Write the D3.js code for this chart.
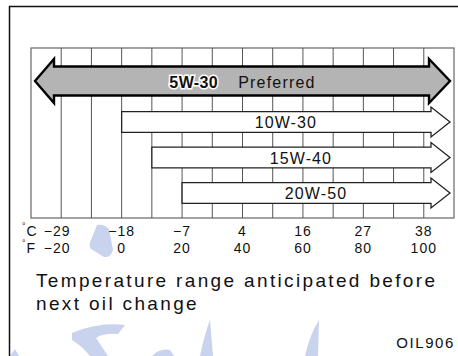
<!DOCTYPE html>
<html>
<head>
<meta charset="utf-8">
<script src="https://cdn.jsdelivr.net/npm/d3@7"></script>
<style>
  body { margin: 0; background: #fff; }
  svg { display: block; font-family: "Liberation Sans", Arial, Helvetica, sans-serif; }
</style>
</head>
<body>
<svg id="chart" width="458" height="356"></svg>
<script>
// oil grades and the outside temperature range (in °F) each one covers
var grades = ["5W-30", "10W-30", "15W-40", "20W-50"];
var lowF = [-30, 0, 10, 20];      // 5W-30 is open at both ends
var preferred = [true, false, false, false];

// axis ticks
var tickF = [-20, 0, 20, 40, 60, 80, 100];
var tickC = ["\u221229", "\u221218", "\u22127", "4", "16", "27", "38"];
var tickFLabels = ["\u221220", "0", "20", "40", "60", "80", "100"];

var svg = d3.select("#chart");

var x = d3.scaleLinear().domain([-30, 110]).range([31, 454]);
var yRow = d3.scaleLinear().domain([1, 3]).range([122, 193]);
var yTop = 48, yBot = 218;

// faint watermark strokes behind everything
var wm = svg.append("g").attr("fill", "#c9d3ee");
wm.append("path").attr("d", "M97,225 Q104,224 109,229 L113,250 Q111,258 104,257 L91,249 Q88,245 91,240 Z");
wm.append("path").attr("d", "M10,356 L15,349 L19,356 Z");
wm.append("path").attr("d", "M72,333 Q98,322 125,325 L118,334 Q104,333 96,338 L108,356 L90,356 Q82,346 72,340 Z");
wm.append("path").attr("d", "M152,356 Q160,348 170,350 L174,356 Z");
wm.append("path").attr("d", "M210,320 L213,356 L200,356 Q204,336 210,320 Z");
wm.append("path").attr("d", "M319,320 L318,356 L305,356 Q310,334 319,320 Z");

// outer frame (open on the right)
svg.append("path")
  .attr("d", "M458,6.5 H9.5 V356")
  .attr("fill", "none").attr("stroke", "#111").attr("stroke-width", 1.5);

// grid box and vertical lines
svg.append("rect")
  .attr("x", x(-30)).attr("y", yTop)
  .attr("width", x(110) - x(-30)).attr("height", yBot - yTop)
  .attr("fill", "none").attr("stroke", "#666").attr("stroke-width", 1.2);

svg.append("g").selectAll("line")
  .data(d3.range(-20, 110, 10))
  .enter().append("line")
    .attr("x1", function(d) { return x(d); })
    .attr("x2", function(d) { return x(d); })
    .attr("y1", yTop).attr("y2", yBot)
    .attr("stroke", "#555").attr("stroke-width", 1);

// arrows
var headLen = 19;
function arrowPath(i) {
  var big = preferred[i];
  var cy = big ? 81 : yRow(i);
  var sh = big ? 14.5 : 10.3;   // half shaft height
  var hh = big ? 22 : 15;       // half head height
  var tipR = x(110) - 4;
  var baseR = tipR - headLen - (big ? 2 : 0);
  var p;
  if (big) {
    var tipL = x(-30) + 4;
    var baseL = tipL + headLen;
    p = "M" + tipL + "," + cy +
        " L" + baseL + "," + (cy - hh) +
        " L" + baseL + "," + (cy - sh) +
        " L" + baseR + "," + (cy - sh) +
        " L" + baseR + "," + (cy - hh) +
        " L" + tipR + "," + cy +
        " L" + baseR + "," + (cy + hh) +
        " L" + baseR + "," + (cy + sh) +
        " L" + baseL + "," + (cy + sh) +
        " L" + baseL + "," + (cy + hh) + " Z";
  } else {
    var xl = x(lowF[i]);
    p = "M" + xl + "," + (cy - sh) +
        " L" + baseR + "," + (cy - sh) +
        " L" + baseR + "," + (cy - hh) +
        " L" + tipR + "," + cy +
        " L" + baseR + "," + (cy + hh) +
        " L" + baseR + "," + (cy + sh) +
        " L" + xl + "," + (cy + sh) + " Z";
  }
  return p;
}

var arrows = svg.append("g").selectAll("g")
  .data(grades)
  .enter().append("g");

arrows.append("path")
  .attr("d", function(d, i) { return arrowPath(i); })
  .attr("fill", function(d, i) { return preferred[i] ? "#b4b4b4" : "#fff"; })
  .attr("stroke", function(d, i) { return preferred[i] ? "#000" : "#222"; })
  .attr("stroke-width", function(d, i) { return preferred[i] ? 2.4 : 1.3; })
  .attr("stroke-linejoin", "miter");

arrows.filter(function(d, i) { return !preferred[i]; })
  .append("text")
    .attr("x", function(d) { var i = grades.indexOf(d); return (x(lowF[i]) + x(110) - 4) / 2; })
    .attr("y", function(d) { return yRow(grades.indexOf(d)) + 6; })
    .attr("text-anchor", "middle")
    .attr("font-size", 16)
    .attr("letter-spacing", 1.1)
    .attr("fill", "#111")
    .text(function(d) { return d; });

var pref = arrows.filter(function(d, i) { return preferred[i]; })
  .append("text")
    .attr("x", (x(-30) + x(110)) / 2)
    .attr("y", 88)
    .attr("text-anchor", "middle")
    .attr("fill", "#111");
pref.append("tspan")
  .attr("font-size", 16).attr("font-weight", "bold")
  .attr("stroke", "#fff").attr("stroke-width", 3).attr("paint-order", "stroke")
  .attr("letter-spacing", 0.4)
  .text(function(d) { return d; });
pref.append("tspan")
  .attr("dx", 20)
  .attr("font-size", 16).attr("letter-spacing", 1.2)
  .text("Preferred");

// temperature labels
var axisG = svg.append("g").attr("font-size", 14).attr("fill", "#111").attr("letter-spacing", 1);
function unitLabel(u, yy) {
  var t = axisG.append("text").attr("x", 22).attr("y", yy);
  t.append("tspan").attr("font-size", 9).attr("dy", -7).text("\u00b0");
  t.append("tspan").attr("dy", 7).text(u);
}
unitLabel("C", 236);
unitLabel("F", 253);

axisG.selectAll(".c").data(tickF).enter().append("text")
  .attr("class", "c")
  .attr("x", function(d, i) { return x(d) + (i === 0 ? -4 : 0); })
  .attr("y", 236)
  .attr("text-anchor", "middle")
  .text(function(d, i) { return tickC[i]; });

axisG.selectAll(".f").data(tickF).enter().append("text")
  .attr("class", "f")
  .attr("x", function(d, i) { return x(d) + (i === 0 ? -4 : 0); })
  .attr("y", 253)
  .attr("text-anchor", "middle")
  .text(function(d, i) { return tickFLabels[i]; });

// caption
var cap1 = svg.append("text").attr("x", 36).attr("y", 287)
  .attr("font-size", 19).attr("fill", "#111")
  .text("Temperature range anticipated before");
var natural = cap1.node().getComputedTextLength();
var lineText = "Temperature range anticipated before";
var ls = (399 - natural) / (lineText.length - 1);
cap1.attr("letter-spacing", ls);
svg.append("text").attr("x", 36).attr("y", 310)
  .attr("font-size", 19).attr("fill", "#111").attr("letter-spacing", ls)
  .text("next oil change");

svg.append("text").attr("x", 455).attr("y", 348)
  .attr("text-anchor", "end")
  .attr("font-size", 15).attr("letter-spacing", 1.6).attr("fill", "#111")
  .text("OIL906");
</script>
</body>
</html>
